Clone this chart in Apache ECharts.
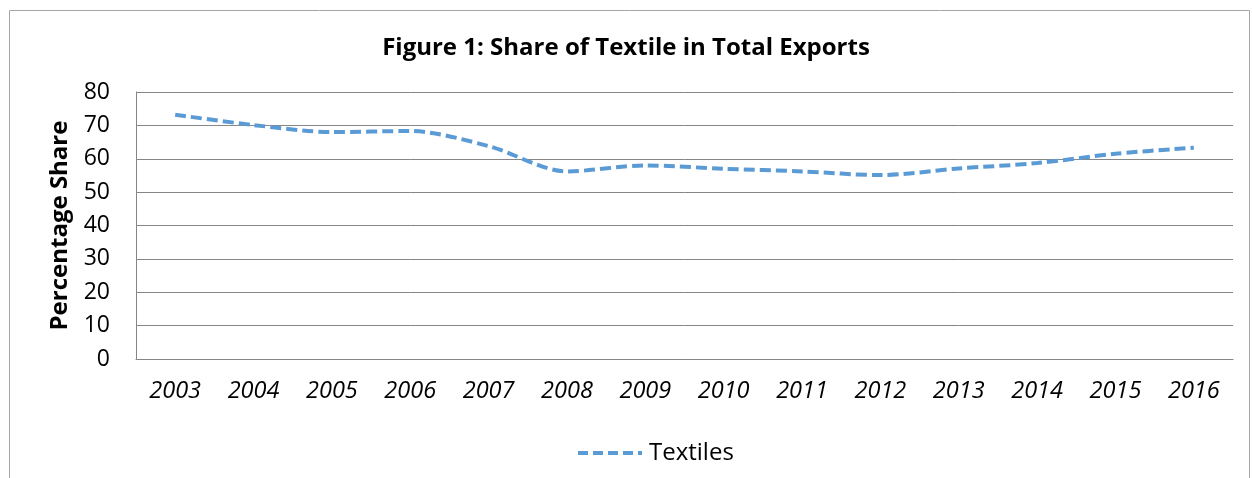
<!DOCTYPE html>
<html>
<head>
<meta charset="utf-8">
<script src="https://cdn.jsdelivr.net/npm/echarts@6/dist/echarts.min.js"></script>
<style>html,body{margin:0;padding:0;background:#fff}#c{width:1252px;height:478px}</style>
</head>
<body>
<div id="c"></div>
<script>
const years = ['2003','2004','2005','2006','2007','2008','2009','2010','2011','2012','2013','2014','2015','2016'];
const textiles = [73.2, 70.1, 68.0, 68.3, 63.8, 56.2, 58.0, 57.0, 56.2, 55.1, 57.1, 58.7, 61.5, 63.3];
const yTicks = [0, 10, 20, 30, 40, 50, 60, 70, 80];

const chart = echarts.init(document.getElementById('c'), null, {renderer: 'canvas'});
const font = '"Open Sans", sans-serif';
chart.setOption({
  animation: false,
  backgroundColor: '#fff',
  graphic: [{
    type: 'rect', shape: {x: 9.5, y: 10.5, width: 1240, height: 480},
    style: {fill: 'none', stroke: '#a6a6a6', lineWidth: 1}, silent: true
  }],
  title: {
    text: 'Figure 1: Share of Textile in Total Exports',
    left: 'center', top: 31,
    textStyle: {fontFamily: font, fontSize: 24, fontWeight: 'bold', color: '#000'}
  },
  grid: {left: 136, right: 19, top: 92, bottom: 119},
  legend: {
    data: [{name: 'Textiles', icon: 'path://M0,0h10v4h-10z M15,0h10v4h-10z M30,0h10v4h-10z M45,0h10v4h-10z M60,0h4v4h-4z'}],
    bottom: 8, left: 573,
    itemWidth: 72, itemHeight: 4, itemGap: 0,
    itemStyle: {color: '#5b9bd5'},
    textStyle: {fontFamily: font, fontSize: 24, color: '#000', padding: [0,0,0,-2]}
  },
  xAxis: {
    type: 'category', data: years, boundaryGap: true,
    axisLine: {lineStyle: {color: '#868686', width: 1}},
    axisTick: {show: false},
    axisLabel: {fontFamily: font, fontSize: 23.5, fontStyle: 'italic', color: '#000', margin: 21}
  },
  yAxis: {
    type: 'value', min: 0, max: 80, interval: 10,
    name: 'Percentage Share', nameLocation: 'middle', nameGap: 64, nameRotate: 90,
    nameTextStyle: {fontFamily: font, fontSize: 24, fontWeight: 'bold', color: '#000'},
    axisLine: {show: true, lineStyle: {color: '#868686', width: 1}},
    axisTick: {show: false},
    splitLine: {lineStyle: {color: '#868686', width: 1}},
    axisLabel: {fontFamily: font, fontSize: 23, color: '#000', margin: 26,
      formatter: v => yTicks.includes(v) ? String(v) : ''}
  },
  series: [{
    name: 'Textiles', type: 'line', data: textiles, smooth: 0.3,
    symbol: 'none',
    lineStyle: {color: '#5b9bd5', width: 4, type: [11, 5], cap: 'butt'},
    itemStyle: {color: '#5b9bd5'}
  }]
});
</script>
</body>
</html>
